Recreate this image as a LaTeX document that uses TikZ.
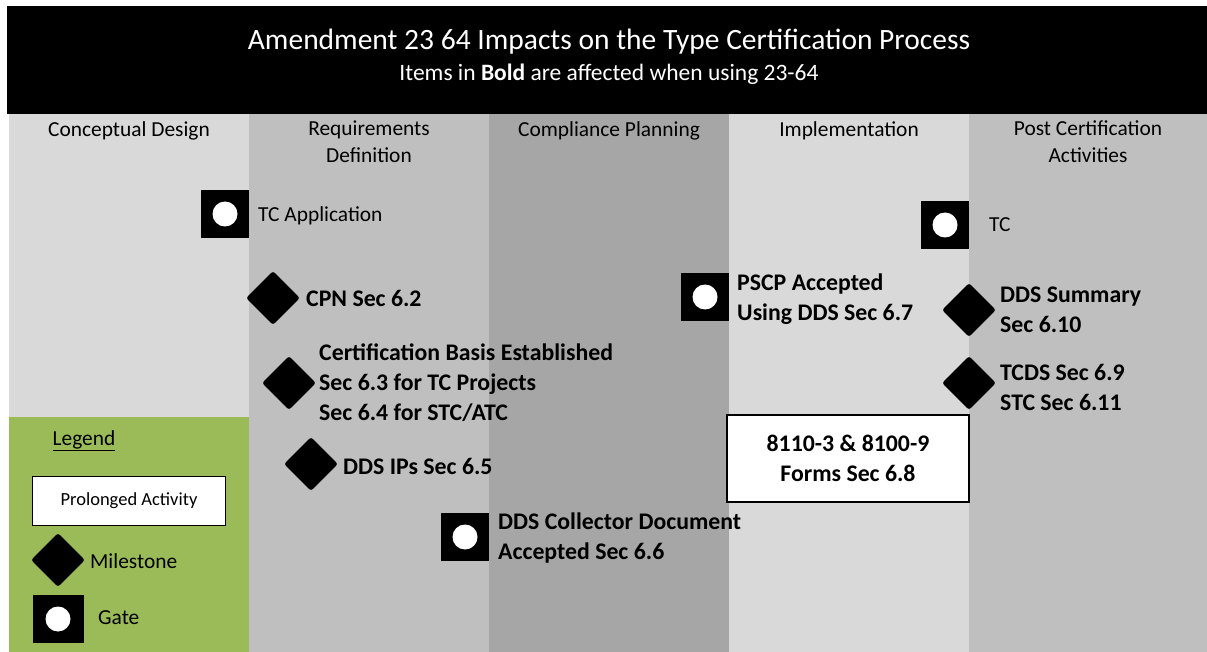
\documentclass[tikz,border=0pt]{standalone}
\usepackage{fontspec}
\setmainfont{Carlito}
\begin{document}
\begin{tikzpicture}[x=1pt,y=-1pt,
  gate/.style={fill=black, inner sep=0, minimum size=48pt,
    path picture={\fill[white] (path picture bounding box.center) circle (12.5pt);}},
  milestone/.style={fill=black, inner sep=0, minimum size=38pt, rotate=45, rounded corners=2.5pt},
  lbl/.style={anchor=west, inner sep=0, align=left, font=\fontsize{21.4}{26}\selectfont},
  blbl/.style={anchor=west, inner sep=0, align=left, font=\fontsize{23.8}{30}\selectfont\bfseries},
  colhead/.style={align=center, inner sep=0, font=\fontsize{21.4}{27}\selectfont},
  activity/.style={draw=black, fill=white, line width=1.2pt, align=center}]
\useasboundingbox (0,0) rectangle (1207,652);
% columns
\fill[gray!30] (9,114) rectangle (249,652);
\fill[black!25] (249,114) rectangle (489,652);
\fill[black!35] (489,114) rectangle (729,652);
\fill[gray!30] (729,114) rectangle (969,652);
\fill[black!25] (969,114) rectangle (1207,652);
\fill[fill={rgb,255:red,155;green,187;blue,89}] (9,417) rectangle (249,652);
% header
\fill[black] (7,6) rectangle (1207,114);
\node[white, inner sep=0, font=\fontsize{29.5}{32}\selectfont] (title) at (609,42) {Amendment 23 64 Impacts on the Type Certification Process};
\node[white, inner sep=0, font=\fontsize{23.5}{26}\selectfont] (subtitle) at (609,74) {Items in \textbf{Bold} are affected when using 23-64};
% column headers
\node[colhead, anchor=north] (h1) at (129,121) {Conceptual Design};
\node[colhead, anchor=north] (h2) at (369,121) {Requirements\\Definition};
\node[colhead, anchor=north] (h3) at (609,121) {Compliance Planning};
\node[colhead, anchor=north] (h4) at (849,121) {Implementation};
\node[colhead, anchor=north] (h5) at (1088,121) {Post Certification\\Activities};
% gates
\node[gate] (g1) at (225,214) {};
\node[lbl] (g1t) at (258,216) {TC Application};
\node[gate] (g2) at (945,225) {};
\node[lbl] (g2t) at (989,225) {TC};
\node[gate] (g3) at (705,297) {};
\node[blbl] (g3t) at (737,299) {PSCP Accepted\\Using DDS Sec 6.7};
\node[gate] (g4) at (465,537) {};
\node[blbl] (g4t) at (498,538) {DDS Collector Document\\Accepted Sec 6.6};
% milestones
\node[milestone] (m1) at (273,298) {};
\node[blbl] (m1t) at (306,298) {CPN Sec 6.2};
\node[milestone] (m2) at (289,383) {};
\node[blbl] (m2t) at (319,383) {Certification Basis Established\\Sec 6.3 for TC Projects\\Sec 6.4 for STC/ATC};
\node[milestone] (m3) at (311,464) {};
\node[blbl] (m3t) at (343,466) {DDS IPs Sec 6.5};
\node[milestone] (m4) at (969,310) {};
\node[blbl] (m4t) at (1000,310) {DDS Summary\\Sec 6.10};
\node[milestone] (m5) at (969,383) {};
\node[blbl] (m5t) at (1000,387) {TCDS Sec 6.9\\STC Sec 6.11};
% activity
\node[activity, minimum width=242pt, minimum height=87pt, font=\fontsize{23.8}{30}\selectfont\bfseries] (a1) at (848,458.5) {8110-3 \& 8100-9\\Forms Sec 6.8};
% legend
\node[lbl, anchor=center] (leg) at (84,441) {\underline{Legend}};
\node[activity, minimum width=193pt, minimum height=49pt, font=\fontsize{18.5}{22}\selectfont] (la) at (129,501) {Prolonged Activity};
\node[milestone] (lm) at (58,560) {};
\node[lbl] (lmt) at (90,561) {Milestone};
\node[gate, minimum width=51pt] (lg) at (58,619) {};
\node[lbl] (lgt) at (98,618) {Gate};
\end{tikzpicture}
\end{document}
